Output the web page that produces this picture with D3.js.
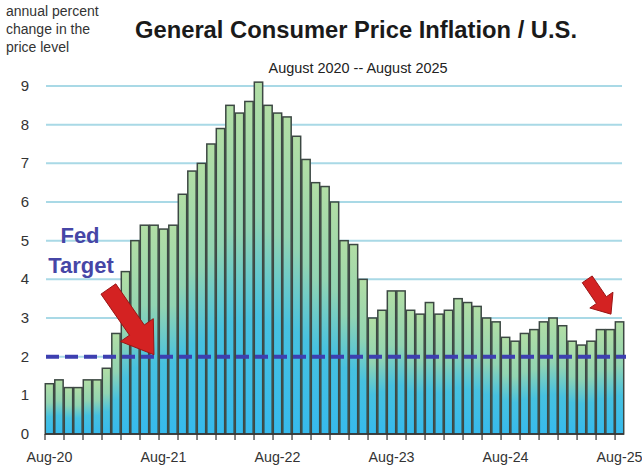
<!DOCTYPE html>
<html>
<head>
<meta charset="utf-8">
<script src="https://cdn.jsdelivr.net/npm/d3@7"></script>
<style>
  body { margin: 0; background: #fff; }
  svg { display: block; font-family: "Liberation Sans", Arial, sans-serif; }
</style>
</head>
<body>
<svg id="chart" width="642" height="470"></svg>
<script>
// monthly CPI, year over year %, Aug 2020 .. Aug 2025
var inflation = [
  1.3, 1.4, 1.2, 1.2, 1.4,                                  // Aug-Dec 2020
  1.4, 1.7, 2.6, 4.2, 5.0, 5.4, 5.4, 5.3, 5.4, 6.2, 6.8, 7.0, // 2021
  7.5, 7.9, 8.5, 8.3, 8.6, 9.1, 8.5, 8.3, 8.2, 7.7, 7.1, 6.5, // 2022
  6.4, 6.0, 5.0, 4.9, 4.0, 3.0, 3.2, 3.7, 3.7, 3.2, 3.1, 3.4, // 2023
  3.1, 3.2, 3.5, 3.4, 3.3, 3.0, 2.9, 2.5, 2.4, 2.6, 2.7, 2.9, // 2024
  3.0, 2.8, 2.4, 2.3, 2.4, 2.7, 2.7, 2.9                      // Jan-Aug 2025
];
var yTicks = [0, 1, 2, 3, 4, 5, 6, 7, 8, 9];
var yearLabels = ["Aug-20", "Aug-21", "Aug-22", "Aug-23", "Aug-24", "Aug-25"];
var fedTarget = 2;
// arrows: [month index, value] for tail and tip
var arrows = [
  { from: [6.2, 3.75], to: [11.0, 2.05], shaft: 18, head: 40, headLen: 30 },
  { from: [56.6, 4.0], to: [59.1, 3.1], shaft: 12, head: 28, headLen: 17 }
];

var svg = d3.select("#chart");
var months = d3.range(inflation.length);

var x = d3.scaleBand().domain(months).range([45, 624]).paddingInner(0.12).paddingOuter(0.03);
var y = d3.scaleLinear().domain([0, 9]).range([434, 86]);
var xi = function(i) { return x(0) + x.bandwidth() / 2 + i * x.step(); };

var defs = svg.append("defs");
var grad = defs.append("linearGradient").attr("id", "barFill")
  .attr("x1", 0).attr("y1", 0).attr("x2", 0).attr("y2", 1);
grad.append("stop").attr("offset", "0%").attr("stop-color", "#b2dea5");
grad.append("stop").attr("offset", "38%").attr("stop-color", "#92d4b2");
grad.append("stop").attr("offset", "66%").attr("stop-color", "#46c1e0");
grad.append("stop").attr("offset", "100%").attr("stop-color", "#36baed");

// grid lines
svg.append("g").selectAll("line").data(yTicks.filter(function(d) { return d > 0; }))
  .enter().append("line")
  .attr("x1", 46).attr("x2", 622)
  .attr("y1", function(d) { return y(d); }).attr("y2", function(d) { return y(d); })
  .attr("stroke", "#a9d9e6").attr("stroke-width", 2);

// bars
svg.append("g").selectAll("rect").data(inflation)
  .enter().append("rect")
  .attr("x", function(d, i) { return x(i); })
  .attr("y", function(d) { return y(d); })
  .attr("width", x.bandwidth())
  .attr("height", function(d) { return y(0) - y(d); })
  .attr("fill", "url(#barFill)")
  .attr("stroke", "#3c4843").attr("stroke-width", 1.5);

// fed target
svg.append("line")
  .attr("x1", 46).attr("x2", 626)
  .attr("y1", y(fedTarget)).attr("y2", y(fedTarget))
  .attr("stroke", "#3d3fb0").attr("stroke-width", 4)
  .attr("stroke-dasharray", "13,6");

svg.append("text").attr("x", 80).attr("y", 243).attr("text-anchor", "middle")
  .attr("font-size", 22).attr("font-weight", "bold").attr("fill", "#4646a6").text("Fed");
svg.append("text").attr("x", 81).attr("y", 273).attr("text-anchor", "middle")
  .attr("font-size", 22).attr("font-weight", "bold").attr("fill", "#4646a6").text("Target");

// x axis
var xAxisG = svg.append("g").attr("transform", "translate(0," + y(0) + ")");
xAxisG.append("line").attr("x1", 45).attr("x2", 624).attr("stroke", "#333").attr("stroke-width", 1.5);
xAxisG.selectAll(".tk").data(d3.range(0, inflation.length + 1, 2))
  .enter().append("line")
  .attr("x1", function(i) { return 45 + i * x.step(); })
  .attr("x2", function(i) { return 45 + i * x.step(); })
  .attr("y1", 0).attr("y2", 6).attr("stroke", "#333").attr("stroke-width", 1.2);
xAxisG.selectAll("text").data(yearLabels)
  .enter().append("text")
  .attr("x", function(d, k) { return xi(k * 12); })
  .attr("y", 28).attr("text-anchor", "middle")
  .attr("font-size", 14.5).attr("fill", "#333")
  .attr("textLength", 46).attr("lengthAdjust", "spacingAndGlyphs")
  .text(function(d) { return d; });

// y labels
svg.append("g").selectAll("text").data(yTicks)
  .enter().append("text")
  .attr("x", 25).attr("y", function(d) { return y(d) + 5; })
  .attr("text-anchor", "middle").attr("font-size", 15).attr("fill", "#333")
  .text(function(d) { return d; });

// arrows
arrows.forEach(function(a) {
  var x0 = xi(a.from[0]), y0 = y(a.from[1]), x1 = xi(a.to[0]), y1 = y(a.to[1]);
  var dx = x1 - x0, dy = y1 - y0, len = Math.sqrt(dx * dx + dy * dy);
  var ux = dx / len, uy = dy / len, px = -uy, py = ux;
  var bx = x1 - ux * a.headLen, by = y1 - uy * a.headLen;
  var s = a.shaft / 2, h = a.head / 2;
  var pts = [
    [x0 + px * s, y0 + py * s], [bx + px * s, by + py * s], [bx + px * h, by + py * h],
    [x1, y1],
    [bx - px * h, by - py * h], [bx - px * s, by - py * s], [x0 - px * s, y0 - py * s]
  ];
  svg.append("polygon").attr("points", pts.map(function(p) { return p.join(","); }).join(" "))
    .attr("fill", "#d42222").attr("stroke", "#9a1515").attr("stroke-width", 1);
});

// titles
svg.append("text").attr("x", 356).attr("y", 38).attr("text-anchor", "middle")
  .attr("font-size", 24).attr("font-weight", "bold").attr("fill", "#1a1a1a")
  .attr("textLength", 442).attr("lengthAdjust", "spacingAndGlyphs")
  .text("General Consumer Price Inflation / U.S.");
svg.append("text").attr("x", 358).attr("y", 73).attr("text-anchor", "middle")
  .attr("font-size", 14).attr("fill", "#222")
  .attr("textLength", 179).attr("lengthAdjust", "spacingAndGlyphs")
  .text("August 2020 -- August 2025");

var unitLines = ["annual percent", "change in the", "price level"];
svg.append("g").selectAll("text").data(unitLines)
  .enter().append("text")
  .attr("x", 6).attr("y", function(d, i) { return 16 + i * 18; })
  .attr("font-size", 14).attr("fill", "#333")
  .text(function(d) { return d; });
</script>
</body>
</html>
